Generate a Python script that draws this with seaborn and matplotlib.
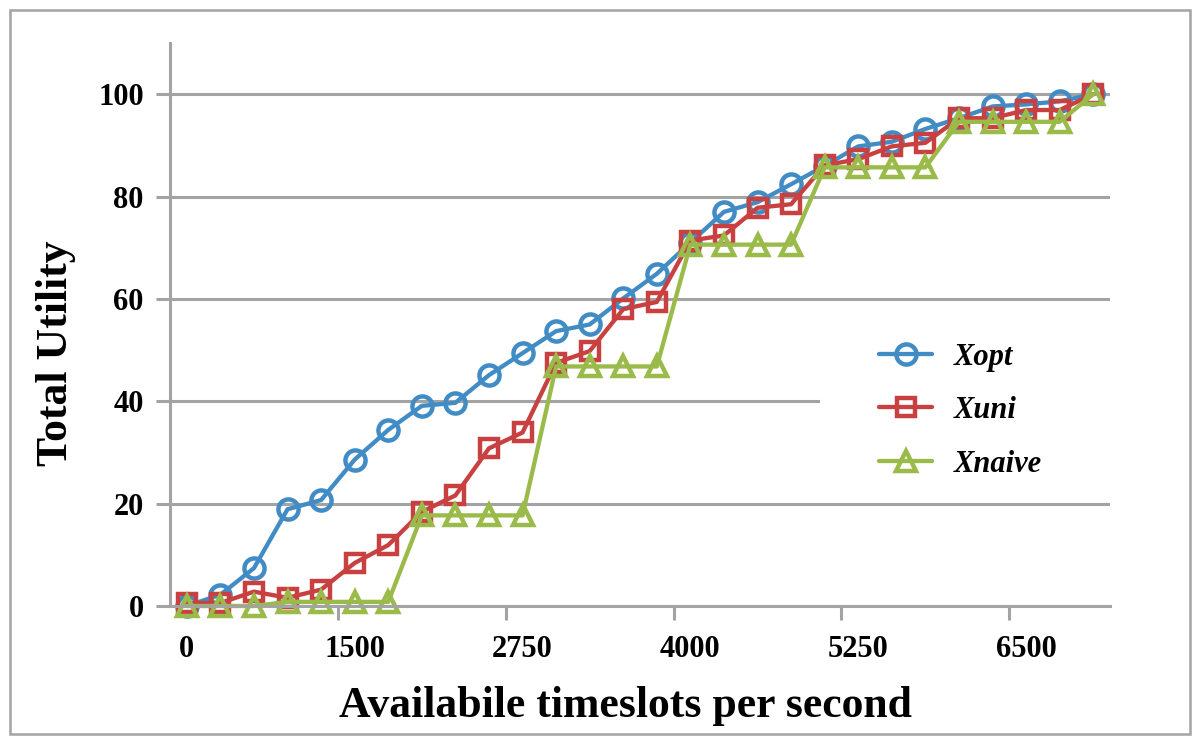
import matplotlib
matplotlib.use("Agg")
import pandas as pd
import seaborn as sns
import matplotlib.pyplot as plt
from matplotlib.patches import Rectangle

# values
timeslots = [0, 500, 750, 1000, 1250, 1500, 1750, 2000, 2250, 2500, 2750, 3000, 3250, 3500,
             3750, 4000, 4250, 4500, 4750, 5000, 5250, 5500, 5750, 6000, 6250, 6500, 6750, 7000]
x_opt = [0, 2.2, 7.4, 18.9, 20.7, 28.6, 34.4, 39.1, 39.7, 45.1, 49.4, 53.7, 55.0, 60.1,
         64.9, 71.0, 77.0, 78.9, 82.4, 86.0, 89.8, 90.7, 93.2, 95.3, 97.6, 98.0, 98.6, 100]
x_uni = [0.6, 0.6, 2.8, 1.6, 3.2, 8.4, 11.9, 18.4, 21.6, 30.8, 33.9, 47.5, 49.8, 58.0,
         59.4, 71.4, 72.4, 77.8, 78.5, 86.1, 87.3, 89.8, 90.5, 95.3, 95.3, 96.9, 96.9, 100]
x_naive = [0, 0, 0, 0.8, 0.8, 0.8, 0.8, 17.7, 17.7, 17.7, 17.7, 46.8, 46.8, 46.8,
           46.8, 70.6, 70.6, 70.6, 70.6, 85.7, 85.7, 85.7, 85.7, 94.6, 94.6, 94.6, 94.6, 100]
series = ["Xopt", "Xuni", "Xnaive"]
colors = {"Xopt": "#428CC6", "Xuni": "#C84040", "Xnaive": "#9ABB4A"}

df = pd.DataFrame({
    "timeslots": timeslots * 3,
    "utility": x_opt + x_uni + x_naive,
    "scheme": [s for s in series for _ in timeslots],
})

sns.set_theme(style="white")
plt.rcParams["font.family"] = ["Liberation Serif", "DejaVu Serif"]
plt.rcParams["font.weight"] = "bold"
for key in ["text.color", "axes.labelcolor", "xtick.color", "ytick.color"]:
    plt.rcParams[key] = "black"
grid_c = "#A3A3A3"

fig = plt.figure(figsize=(12, 7.45), dpi=100)
ax = fig.add_axes([0.1417, 0.1866, 0.7833, 0.7557])

sns.pointplot(data=df, x="timeslots", y="utility", hue="scheme", hue_order=series,
              palette=colors, markers=["o", "s", "^"], linestyles="-", errorbar=None,
              legend=False, ax=ax, linewidth=3.1)

# Excel-like hollow markers
sizes = [14.5, 12.5, 15]
for line, ms in zip(ax.lines[:3], sizes):
    line.set_markerfacecolor("none")
    line.set_markeredgecolor(line.get_color())
    line.set_markeredgewidth(3.2)
    line.set_markersize(ms)
    line.set_clip_on(False)

ax.set_xlim(-0.5, len(timeslots) - 0.5)
ax.set_ylim(0, 110)
ax.set_yticks(range(0, 101, 20))
ax.yaxis.grid(True, color=grid_c, lw=2.2)
ax.set_axisbelow(True)

# category axis: tick marks between groups of 5, labels on every 5th category
ax.set_xticks([4.5, 9.5, 14.5, 19.5, 24.5], labels=[""] * 5)
lab_pos = list(range(0, len(timeslots), 5))
ax.set_xticks(lab_pos, labels=[str(timeslots[i]) for i in lab_pos], minor=True)
ax.tick_params(axis="x", which="major", bottom=True, length=10, width=2.2, color=grid_c)
ax.tick_params(axis="x", which="minor", bottom=True, length=0, pad=21, labelsize=22)
ax.tick_params(axis="y", left=True, length=10, width=2.2, color=grid_c, pad=9, labelsize=22)

for side in ["top", "right"]:
    ax.spines[side].set_visible(False)
for side in ["left", "bottom"]:
    ax.spines[side].set_color(grid_c)
    ax.spines[side].set_linewidth(2.2)

ax.set_xlabel("Availabile timeslots per second", fontsize=31.5, fontweight="bold")
ax.xaxis.set_label_coords(0.485, -0.142)
ax.set_ylabel("Total Utility", fontsize=31.5, fontweight="bold")
ax.yaxis.set_label_coords(-0.1, 0.449)

# white legend area hides the gridline behind it
ax.add_patch(Rectangle((0.6915, 0.25), 0.32, 0.22, transform=ax.transAxes,
                       facecolor="white", edgecolor="none", zorder=1, clip_on=False))
ax.legend(ax.lines[:3], series, loc="center left", bbox_to_anchor=(0.738, 0.347),
          frameon=False, borderpad=0, handlelength=1.75, handletextpad=0.7,
          labelspacing=0.8,
          prop={"family": "Liberation Serif", "weight": "bold", "style": "italic", "size": 22})

fig.add_artist(Rectangle((0.0083, 0.0148), 0.9834, 0.9718, transform=fig.transFigure,
                         fill=False, edgecolor=grid_c, lw=1.8))

fig.savefig("out.png", dpi=100)
